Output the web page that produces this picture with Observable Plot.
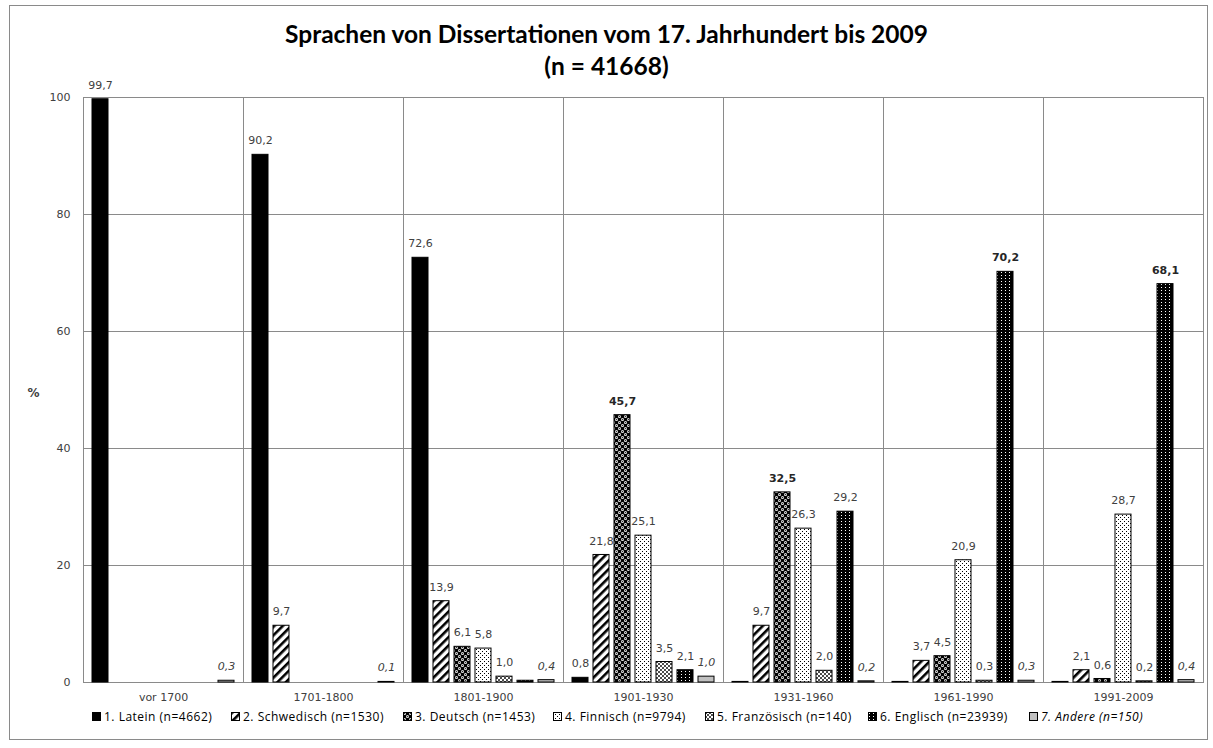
<!DOCTYPE html>
<html><head><meta charset="utf-8">
<script src="https://cdn.jsdelivr.net/npm/d3@7"></script>
<script src="https://cdn.jsdelivr.net/npm/@observablehq/plot@0.6"></script>
<style>
html,body{margin:0;padding:0;background:#fff;}
#wrap{position:relative;width:1213px;height:748px;overflow:hidden;background:#fff;}
#border{position:absolute;left:9px;top:5px;width:1197px;height:733px;border:1px solid #8a8a8a;}
#title{position:absolute;left:0;top:18px;width:1213px;text-align:center;font-family:Lato,sans-serif;font-weight:bold;font-size:24.5px;line-height:32px;color:#000;}
#chart{position:absolute;left:0;top:85px;}
#legend{position:absolute;top:708px;left:0;width:1213px;height:16px;font-family:'Open Sans',sans-serif;font-size:12px;letter-spacing:0.5px;color:#000;}
.item{position:absolute;top:0;height:16px;display:flex;align-items:center;gap:3px;white-space:nowrap;}
</style></head>
<body>
<svg width="0" height="0" style="position:absolute">
<defs>
  <pattern id="pSchw" patternUnits="userSpaceOnUse" width="6" height="6" patternTransform="rotate(45)">
    <rect width="6" height="6" fill="#fff"/><rect width="2.6" height="6" fill="#000"/>
  </pattern>
  <pattern id="pDeu" patternUnits="userSpaceOnUse" width="6" height="6">
    <rect width="6" height="6" fill="#000"/>
    <circle cx="1.5" cy="1.5" r="1.5" fill="#fff"/><circle cx="4.5" cy="4.5" r="1.5" fill="#fff"/>
    <circle cx="1.5" cy="1.5" r="0.8" fill="#333"/><circle cx="4.5" cy="4.5" r="0.8" fill="#333"/>
  </pattern>
  <pattern id="pFin" patternUnits="userSpaceOnUse" width="4" height="4">
    <rect width="4" height="4" fill="#fff"/><rect x="0" y="0" width="1" height="1" fill="#000"/><rect x="2" y="2" width="1" height="1" fill="#000"/>
  </pattern>
  <pattern id="pFra" patternUnits="userSpaceOnUse" width="4" height="4">
    <rect width="4" height="4" fill="#fff"/><circle cx="1" cy="1" r="0.95" fill="#000"/><circle cx="3" cy="3" r="0.95" fill="#000"/>
  </pattern>
  <pattern id="pEng" patternUnits="userSpaceOnUse" width="4" height="3">
    <rect width="4" height="3" fill="#000"/><rect x="1" y="1" width="1" height="1" fill="#fff"/>
  </pattern>
</defs>
</svg>
<div id="wrap">
  <div id="border"></div>
  <div id="title">Sprachen von Dissertationen vom 17. Jahrhundert bis 2009<br>(n = 41668)</div>
  <div id="chart"></div>
  <div id="legend"></div>
</div>
<script>
// ---- data ----
const periods = ["vor 1700", "1701-1800", "1801-1900", "1901-1930", "1931-1960", "1961-1990", "1991-2009"];
const languages = ["Latein", "Schwedisch", "Deutsch", "Finnisch", "Französisch", "Englisch", "Andere"];
const legendLabels = ["1. Latein (n=4662)", "2. Schwedisch (n=1530)", "3. Deutsch (n=1453)", "4. Finnisch (n=9794)", "5. Französisch (n=140)", "6. Englisch (n=23939)", "7. Andere (n=150)"];
const latein      = [99.7, 90.2, 72.6, 0.8, 0.1, 0.1, 0.1];
const schwedisch  = [null, 9.7, 13.9, 21.8, 9.7, 3.7, 2.1];
const deutsch     = [null, null, 6.1, 45.7, 32.5, 4.5, 0.6];
const finnisch    = [null, null, 5.8, 25.1, 26.3, 20.9, 28.7];
const franzoesisch= [null, null, 1.0, 3.5, 2.0, 0.3, 0.2];
const englisch    = [null, null, 0.3, 2.1, 29.2, 70.2, 68.1];
const andere      = [0.3, 0.1, 0.4, 1.0, 0.2, 0.3, 0.4];
const yTicks = [0, 20, 40, 60, 80, 100];
// bars drawn without a value label
const unlabeled = [["1801-1900", "Englisch"], ["1931-1960", "Latein"], ["1961-1990", "Latein"], ["1991-2009", "Latein"]];
// labels drawn in bold
const boldLabels = [["1901-1930", "Deutsch"], ["1931-1960", "Deutsch"], ["1961-1990", "Englisch"], ["1991-2009", "Englisch"]];
const italicSeries = ["Andere"];

// ---- styles ----
const fills = ["#000", "url(#pSchw)", "url(#pDeu)", "url(#pFin)", "url(#pFra)", "url(#pEng)", "#c0c0c0"];
const legendX = [92, 231, 403, 553, 705, 868, 1029];

const series = [latein, schwedisch, deutsch, finnisch, franzoesisch, englisch, andere];
const rows = [];
series.forEach((vals, i) => vals.forEach((v, j) => {
  if (v != null) rows.push({period: periods[j], language: languages[i], value: v});
}));
const inList = (list, d) => list.some(([p, l]) => p === d.period && l === d.language);
const fmt = v => v.toFixed(1).replace(".", ",");
const labeled = rows.filter(d => !inList(unlabeled, d));
const normalRows = labeled.filter(d => !inList(boldLabels, d) && !italicSeries.includes(d.language));
const boldRows = labeled.filter(d => inList(boldLabels, d));
const italicRows = labeled.filter(d => italicSeries.includes(d.language));

const common = {fx: "period", x: "language", y: "value", text: d => fmt(d.value), dy: -14};

const chart = Plot.plot({
  width: 1213, height: 622,
  marginTop: 12, marginBottom: 25, marginLeft: 83, marginRight: 10,
  style: {fontFamily: "'DejaVu Sans', Verdana, sans-serif", fontSize: "11px", color: "#404040", background: "transparent", overflow: "visible"},
  fx: {domain: periods, padding: 0, label: null, axis: "bottom", tickSize: 0, tickPadding: 11},
  x: {domain: languages, paddingInner: 0.24, paddingOuter: 0.34, axis: null},
  y: {domain: [0, 100], ticks: yTicks, label: null, tickSize: 0, tickPadding: 13},
  color: {type: "ordinal", domain: languages, range: fills},
  marks: [
    Plot.gridY(yTicks, {stroke: "#8a8a8a", strokeOpacity: 1}),
    Plot.frame({stroke: "#8a8a8a"}),
    Plot.barY(rows, {fx: "period", x: "language", y: "value", fill: "language", stroke: "#000", strokeWidth: 1}),
    Plot.text(normalRows, {...common, fill: "#404040"}),
    Plot.text(boldRows, {...common, fill: "#262626", fontWeight: "bold"}),
    Plot.text(italicRows, {...common, fill: "#404040", fontStyle: "italic"}),
    Plot.text(["%"], {fx: [periods[0]], frameAnchor: "left", textAnchor: "middle", dx: -50, dy: 3, fontWeight: "bold", fontSize: 12, fill: "#404040"})
  ]
});
document.getElementById("chart").appendChild(chart);

// ---- legend ----
const items = d3.select("#legend").selectAll("div.item")
  .data(legendLabels.map((t, i) => ({t, fill: fills[i], x: legendX[i], italic: italicSeries.includes(languages[i])})))
  .join("div").attr("class", "item")
  .style("left", d => d.x + "px")
  .style("font-style", d => d.italic ? "italic" : "normal");
items.append("svg").attr("width", 9).attr("height", 9)
  .append("rect").attr("x", 0.5).attr("y", 0.5).attr("width", 8).attr("height", 8)
  .attr("fill", d => d.fill).attr("stroke", "#000");
items.append("span").text(d => d.t);
</script>
</body></html>
